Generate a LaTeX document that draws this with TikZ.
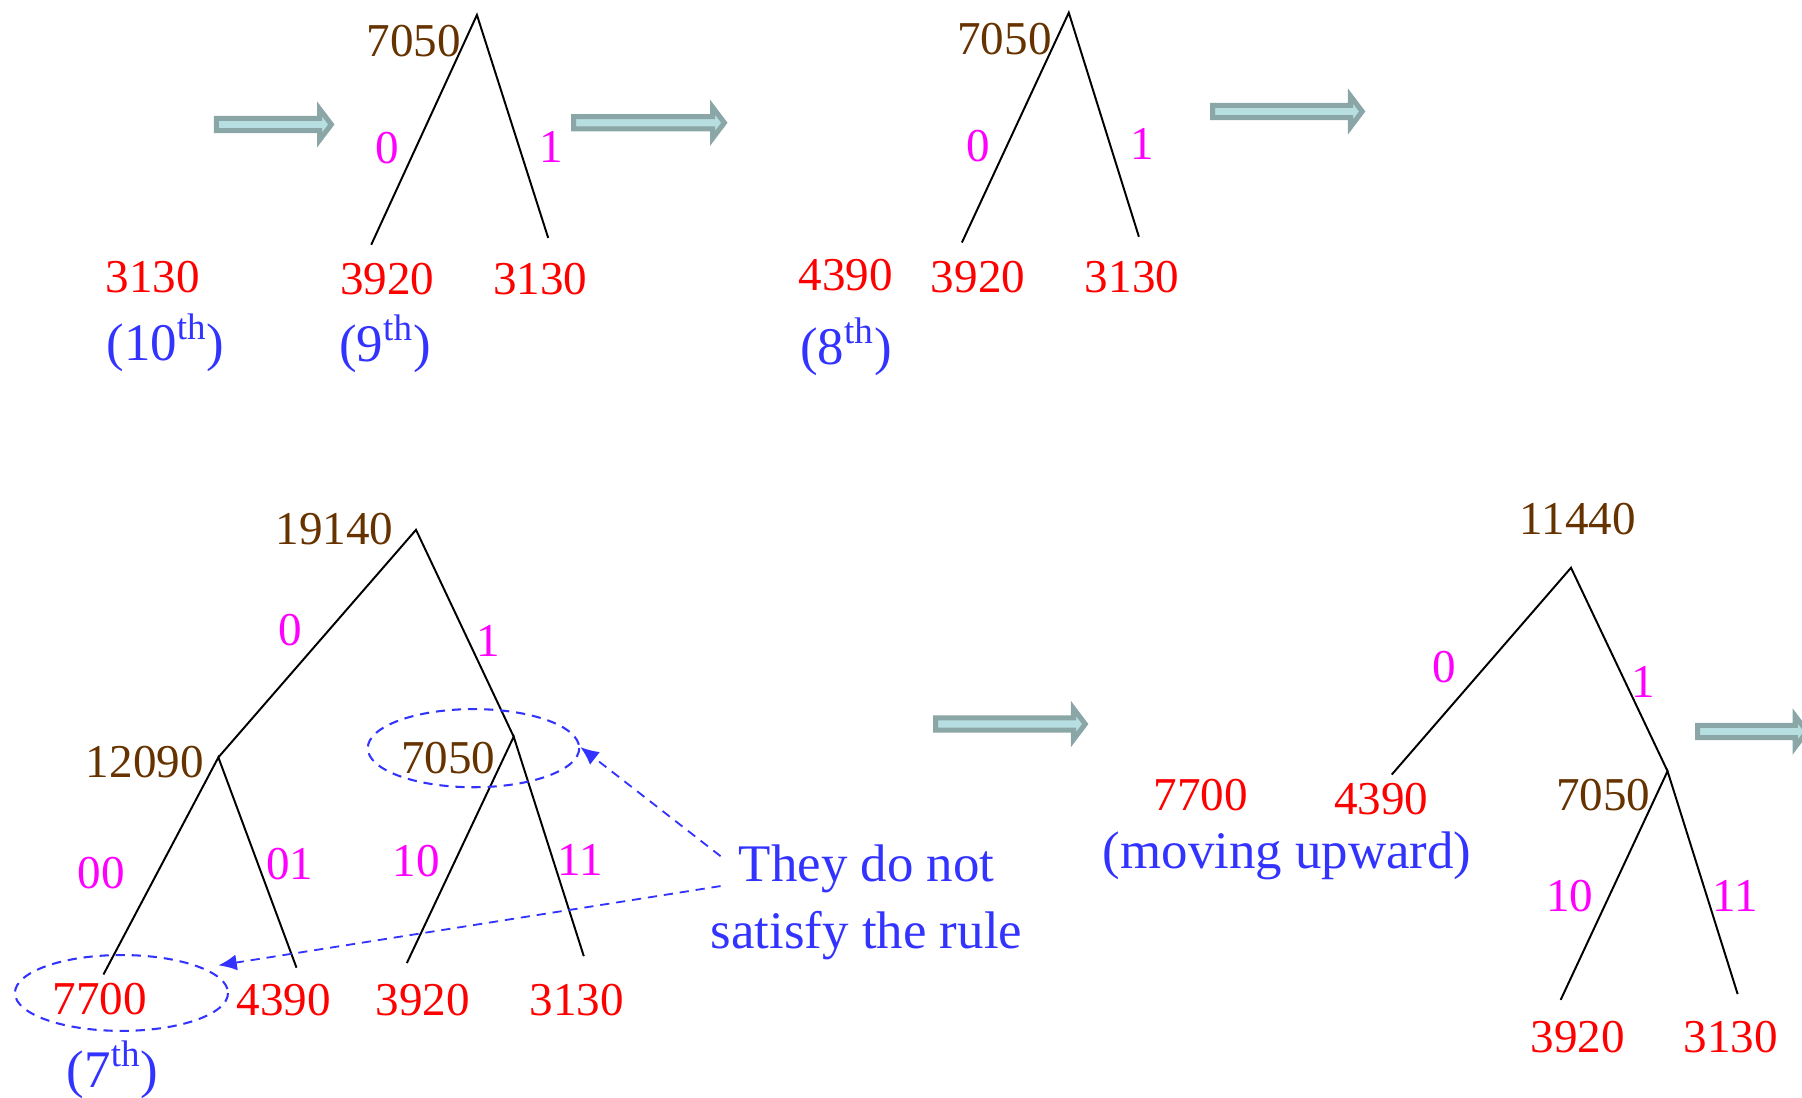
\documentclass[tikz,border=0pt]{standalone}
\usepackage{fontspec}
\setmainfont{Liberation Serif}
\usetikzlibrary{arrows.meta}
\definecolor{brn}{RGB}{102,51,0}
\definecolor{mag}{RGB}{255,0,255}
\definecolor{blu}{RGB}{51,51,255}
\definecolor{arrfill}{RGB}{183,222,224}
\definecolor{arredge}{RGB}{139,166,166}
\newcommand\blkarrow[3]{%
  \draw[blk] (#1+2.2,#3-5.3) -- (#2-12.9,#3-5.3) -- (#2-12.9,#3-13.5) -- (#2-2.7,#3)
    -- (#2-12.9,#3+13.5) -- (#2-12.9,#3+5.3) -- (#1+2.2,#3+5.3) -- cycle;}
\newcommand\ordth[1]{(#1\textsuperscript{th})}
\begin{document}
\begin{tikzpicture}[x=0.5pt,y=-0.5pt,
  num/.style={text=red, font=\fontsize{20.5}{24}\selectfont, inner sep=0},
  inum/.style={text=brn, font=\fontsize{20.5}{24}\selectfont, inner sep=0},
  bit/.style={text=mag, font=\fontsize{20.5}{24}\selectfont, inner sep=0},
  note/.style={text=blu, font=\fontsize{23}{27}\selectfont, inner sep=0, align=center},
  edge/.style={line width=0.85pt, black},
  ring/.style={draw=blu, dashed, line width=0.9pt, dash pattern=on 4pt off 3pt},
  ptr/.style={draw=blu, line width=0.8pt, dash pattern=on 4pt off 3pt, -{Latex[length=8pt,width=7pt]}},
  blk/.style={fill=arrfill, draw=arredge, line width=2.2pt, line join=miter}]
\useasboundingbox (0,0) rectangle (1568,955);

% block arrows
\blkarrow{186}{291}{108.3}
\blkarrow{497}{633}{106.8}
\blkarrow{1053}{1188}{97}
\blkarrow{812}{947}{630}
\blkarrow{1475}{1575}{636.5}

% ---- top-left ----
\node[num] (a3130) at (133,241) {3130};
\node[note] (a10) at (144,298) {\ordth{10}};

% ---- tree 1 ----
\coordinate (r1) at (415,13);
\coordinate (r1l) at (323,213);
\coordinate (r1r) at (477,207);
\draw[edge] (r1l) -- (r1) -- (r1r);
\node[inum] (b7050) at (360,36) {7050};
\node[bit] (b0) at (337,129) {0};
\node[bit] (b1) at (480,128) {1};
\node[num] (b3920) at (337,243) {3920};
\node[num] (b3130) at (470,243) {3130};
\node[note] (b9) at (335,299) {\ordth{9}};

% ---- tree 2 ----
\coordinate (r2) at (930,11);
\coordinate (r2l) at (837,211);
\coordinate (r2r) at (991,206);
\draw[edge] (r2l) -- (r2) -- (r2r);
\node[inum] (c7050) at (874,34) {7050};
\node[bit] (c0) at (851,127) {0};
\node[bit] (c1) at (994,125) {1};
\node[num] (c4390) at (736,239) {4390};
\node[num] (c3920) at (851,241) {3920};
\node[num] (c3130) at (985,241) {3130};
\node[note] (c8) at (736,302) {\ordth{8}};

% ---- tree 3 (bottom-left) ----
\coordinate (r3) at (362,461);
\coordinate (n12) at (190,659);
\coordinate (n70) at (447,641);
\coordinate (l1) at (90,848);
\coordinate (l2) at (258,842);
\coordinate (l3) at (354,838);
\coordinate (l4) at (508,832);
\draw[edge] (n12) -- (r3) -- (n70);
\draw[edge] (l1) -- (n12) -- (l2);
\draw[edge] (l3) -- (n70) -- (l4);
\node[inum] (d19140) at (291,460) {19140};
\node[inum] (d12090) at (126,663) {12090};
\node[inum] (d7050) at (390,660) {7050};
\node[bit] (d0) at (253,548) {0};
\node[bit] (d1) at (425,558) {1};
\node[bit] (d00) at (88,760) {00};
\node[bit] (d01) at (252,752) {01};
\node[bit] (d10) at (362,749) {10};
\node[bit] (d11) at (505,748) {11};
\node[num] (d7700) at (87,869) {7700};
\node[num] (d4390) at (247,870) {4390};
\node[num] (d3920) at (368,870) {3920};
\node[num] (d3130) at (502,870) {3130};
\node[note] (d7) at (98,931) {\ordth{7}};
\draw[ring] (412,651) ellipse [x radius=92, y radius=34];
\draw[ring] (105.7,864) ellipse [x radius=92.7, y radius=33];
\node[note] (rule) at (754,785) {They do not\\[2pt]satisfy the rule};
\coordinate (p1s) at (627,745);
\coordinate (p1e) at (505,650);
\coordinate (p2s) at (627,771);
\coordinate (p2e) at (190,840);
\draw[ptr] (p1s) -- (p1e);
\draw[ptr] (p2s) -- (p2e);

% ---- tree 4 (right) ----
\coordinate (r4) at (1367,494);
\coordinate (r4l) at (1211,674);
\coordinate (n70b) at (1451,671);
\coordinate (m1) at (1358,870);
\coordinate (m2) at (1512,865);
\draw[edge] (r4l) -- (r4) -- (n70b);
\draw[edge] (m1) -- (n70b) -- (m2);
\node[inum] (e11440) at (1373,452) {11440};
\node[bit] (e0) at (1257,580) {0};
\node[bit] (e1) at (1430,593) {1};
\node[num] (e7700) at (1045,692) {7700};
\node[num] (e4390) at (1202,695) {4390};
\node[note] (emove) at (1120,745) {(moving upward)};
\node[inum] (e7050) at (1395,692) {7050};
\node[bit] (e10) at (1366,780) {10};
\node[bit] (e11) at (1510,780) {11};
\node[num] (e3920) at (1373,902) {3920};
\node[num] (e3130) at (1506,902) {3130};
\end{tikzpicture}
\end{document}
